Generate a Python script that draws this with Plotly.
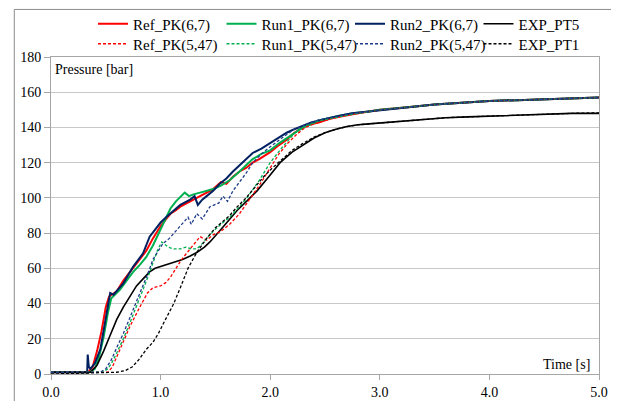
import plotly.graph_objects as go

# ---------------- data ----------------
ref67_t = [0, 0.34, 0.38, 0.42, 0.46, 0.50, 0.53, 0.57, 0.60, 0.66, 0.72, 0.80, 0.87, 0.93, 1.0, 1.05, 1.09, 1.14, 1.18,
           1.24, 1.3, 1.36, 1.42, 1.48, 1.55, 1.6, 1.66, 1.72, 1.78, 1.84, 1.9, 2.0, 2.08, 2.15, 2.22, 2.3, 2.38, 2.45,
           2.55, 2.62, 2.75, 2.9, 3.0, 3.25, 3.5, 3.75, 4.0, 4.25, 4.5, 4.75, 5.0]
ref67_p = [1, 1, 4, 13, 24, 38, 44, 46, 47, 53, 58, 64, 70, 77, 84, 88, 91, 93, 95,
           97, 99, 101, 103, 105, 109, 108, 112, 115, 117, 120, 122, 126, 130, 133, 137, 140, 142, 143,
           145, 146, 147.5, 149, 150, 151.5, 153, 154, 155, 155.5, 156, 156.5, 157]

run1_67_t = [0, 0.35, 0.40, 0.44, 0.48, 0.52, 0.55, 0.60, 0.63, 0.69, 0.75, 0.81, 0.87, 0.93, 1.0, 1.05, 1.09, 1.14,
             1.18, 1.22, 1.26, 1.30, 1.36, 1.42, 1.48, 1.55, 1.63, 1.72, 1.84, 1.92, 2.0, 2.08, 2.15, 2.22, 2.3, 2.38,
             2.45, 2.55, 2.62, 2.75, 2.9, 3.0, 3.25, 3.5, 3.75, 4.0, 4.25, 4.5, 4.75, 5.0]
run1_67_p = [1, 1, 3, 10, 21, 35, 43, 46, 48, 53, 58, 62, 66.5, 73, 82, 89, 94, 98,
             100.5, 103, 101, 102, 103, 104, 105, 107, 110, 115, 122, 125, 127, 131, 134, 137, 140, 142,
             144, 145.5, 146.5, 148, 149, 150, 151.5, 153, 154, 155, 155.5, 156, 156.5, 157]

run2_67_t = [0, 0.33, 0.335, 0.345, 0.36, 0.40, 0.45, 0.49, 0.52, 0.54, 0.57, 0.60, 0.66, 0.75, 0.84, 0.90, 0.95, 1.0,
             1.05, 1.09, 1.18, 1.27, 1.31, 1.34, 1.38, 1.42, 1.48, 1.54, 1.6, 1.66, 1.72, 1.78, 1.84, 1.92, 2.0, 2.08,
             2.15, 2.22, 2.3, 2.38, 2.45, 2.55, 2.62, 2.75, 2.9, 3.0, 3.25, 3.5, 3.75, 4.0, 4.25, 4.5, 4.75, 5.0]
run2_67_p = [1, 1, 11, 4, 3, 6, 14, 29, 40, 46, 45, 47, 51.5, 61, 68.5, 78, 82, 86,
             89, 91, 96, 99, 101, 96, 99, 101, 104, 108, 111, 115, 118.7, 122, 125.5, 128, 131, 134,
             137, 139, 141, 143, 144, 145.5, 146.5, 148, 149, 150, 151.5, 153, 154, 155, 155.5, 156, 156.5, 157]

ref547_t = [0, 0.52, 0.56, 0.63, 0.72, 0.81, 0.88, 0.93, 1.0, 1.05, 1.09, 1.14, 1.18, 1.23, 1.27, 1.32, 1.36, 1.42,
            1.48, 1.55, 1.63, 1.72, 1.8, 1.9, 2.0, 2.08, 2.16, 2.24, 2.32, 2.4, 2.5, 2.62, 2.75, 2.9, 3.0, 3.25, 3.5,
            3.75, 4.0, 4.25, 4.5, 4.75, 5.0]
ref547_p = [1, 1, 4, 14, 27, 38, 46, 49, 50, 52, 55, 60, 64, 68, 71, 75, 78, 76,
            79, 81, 85, 91, 98, 107, 117, 125, 131, 136, 140, 142, 144, 146, 147.5, 149, 150, 151.5, 153,
            154, 155, 155.5, 156, 156.5, 157]

run1_547_t = [0, 0.47, 0.52, 0.56, 0.60, 0.66, 0.72, 0.78, 0.84, 0.89, 0.93, 0.97, 1.01, 1.07, 1.12, 1.18, 1.23, 1.28,
              1.33, 1.38, 1.42, 1.48, 1.55, 1.63, 1.72, 1.8, 1.9, 2.0, 2.1, 2.17, 2.24, 2.32, 2.4, 2.5, 2.62, 2.75, 2.9,
              3.0, 3.25, 3.5, 3.75, 4.0, 4.25, 4.5, 4.75, 5.0]
run1_547_p = [1, 1, 3, 7, 12, 20, 29, 38, 48, 56, 63, 70, 75, 72, 71, 71, 72, 71,
              71, 74, 77, 81, 85, 89, 95, 101, 110, 120, 128, 133, 138, 141, 143, 144.5, 146, 147.5, 149,
              150, 151.5, 153, 154, 155, 155.5, 156, 156.5, 157]

run2_547_t = [0, 0.45, 0.5, 0.55, 0.6, 0.66, 0.72, 0.78, 0.84, 0.89, 0.93, 0.97, 1.02, 1.08, 1.15, 1.2, 1.25, 1.28,
              1.33, 1.38, 1.45, 1.53, 1.57, 1.61, 1.66, 1.72, 1.78, 1.84, 1.92, 2.0, 2.08, 2.15, 2.22, 2.3, 2.38, 2.45,
              2.55, 2.62, 2.75, 2.9, 3.0, 3.25, 3.5, 3.75, 4.0, 4.25, 4.5, 4.75, 5.0]
run2_547_p = [1, 1, 3, 8, 15, 23, 32, 41, 50, 58, 65, 69, 74, 77, 82, 85, 89, 85,
              91, 88, 95, 97, 101, 98, 104, 109, 114, 120, 125, 129, 133, 136, 139, 141, 143, 144.5,
              145.5, 146.5, 148, 149, 150, 151.5, 153, 154, 155, 155.5, 156, 156.5, 157]

exp_pt5_t = [0, 0.36, 0.42, 0.48, 0.54, 0.60, 0.66, 0.72, 0.78, 0.84, 0.90, 0.95, 1.0, 1.05, 1.1, 1.15, 1.2, 1.27,
             1.33, 1.4, 1.45, 1.55, 1.63, 1.7, 1.8, 1.88, 2.0, 2.09, 2.2, 2.3, 2.4, 2.5, 2.6, 2.7, 2.8, 2.9, 3.0, 3.2,
             3.4, 3.6, 3.8, 4.0, 4.25, 4.5, 4.75, 5.0]
exp_pt5_p = [1, 1, 5, 13, 22, 31, 38, 44, 50, 54, 58, 60, 61, 62, 63, 64, 65, 67,
             69, 72, 75, 82, 88, 93, 99, 104, 113, 120, 126, 130, 134, 137, 139, 140.5, 141.5, 142, 142.5, 143.5,
             144.5, 145.5, 146, 146.5, 147, 147.5, 148, 148]

exp_pt1_t = [0, 0.5, 0.6, 0.68, 0.74, 0.8, 0.87, 0.93, 0.98, 1.02, 1.07, 1.12, 1.18, 1.25, 1.33, 1.42, 1.5, 1.63, 1.7,
             1.78, 1.86, 1.94, 2.02, 2.09, 2.2, 2.3, 2.4, 2.5, 2.6, 2.7, 2.8, 2.9, 3.0, 3.2, 3.4, 3.6, 3.8, 4.0, 4.25,
             4.5, 4.75, 5.0]
exp_pt1_p = [0, 0.5, 1, 2, 4, 8, 14, 18, 23, 28, 34, 40, 49, 60, 69, 77, 83, 90, 95,
             100, 106, 112, 117, 121, 127, 131, 134.5, 137, 139, 140.5, 141.5, 142, 142.5, 143.5, 144.5, 145.5, 146,
             146.5, 147, 147.5, 148, 148.3]

x_ticks = [0, 1, 2, 3, 4, 5]
x_tick_labels = ["0.0", "1.0", "2.0", "3.0", "4.0", "5.0"]
y_ticks = [0, 20, 40, 60, 80, 100, 120, 140, 160, 180]

series = [
    ("Ref_PK(6,7)", ref67_t, ref67_p, "#ff0000", "solid", 2.0),
    ("Run1_PK(6,7)", run1_67_t, run1_67_p, "#00b050", "solid", 2.0),
    ("Run2_PK(6,7)", run2_67_t, run2_67_p, "#002060", "solid", 2.0),
    ("EXP_PT5", exp_pt5_t, exp_pt5_p, "#000000", "solid", 1.6),
    ("Ref_PK(5,47)", ref547_t, ref547_p, "#ff0000", "3px,2px", 1.3),
    ("Run1_PK(5,47)", run1_547_t, run1_547_p, "#00b050", "3px,2px", 1.3),
    ("Run2_PK(5,47)", run2_547_t, run2_547_p, "#1f3c88", "3px,2px", 1.3),
    ("EXP_PT1", exp_pt1_t, exp_pt1_p, "#000000", "3px,2px", 1.3),
]

FONT = "Liberation Serif"
W, H = 611, 393  # the viewer page adds an 8px body offset

fig = go.Figure()
legend_layouts = {}
for i, (name, t, p, color, dash, w) in enumerate(series):
    key = "legend" if i == 0 else f"legend{i + 1}"
    col, row = i % 4, i // 4
    fig.add_trace(go.Scatter(x=t, y=p, mode="lines", name=name, legend=key,
                             line=dict(color=color, dash=dash, width=w)))
    legend_layouts[key] = dict(
        xref="container", yref="container",
        x=(85 + col * 128.5) / W, xanchor="left",
        y=1 - (16 + row * 20) / H, yanchor="middle",
        font=dict(family=FONT, size=15, color="#000000"),
        bgcolor="rgba(0,0,0,0)", borderwidth=0, itemwidth=30)

fig.update_layout(
    width=W, height=H,
    margin=dict(l=43, r=20, t=49, b=27, autoexpand=False),
    paper_bgcolor="white", plot_bgcolor="white",
    font=dict(family=FONT, size=14, color="#000000"),
    showlegend=True,
    xaxis=dict(range=[0, 5], tickvals=x_ticks, ticktext=x_tick_labels,
               showgrid=False, zeroline=False, showline=True, mirror=True,
               linecolor="#a6a6a6", linewidth=1, ticks="outside", ticklen=5,
               tickcolor="#a6a6a6", tickfont=dict(family=FONT, size=14)),
    yaxis=dict(range=[0, 180], tickvals=y_ticks, showgrid=True, gridcolor="#c8c8c8",
               gridwidth=1, zeroline=False, showline=True, mirror=True,
               linecolor="#a6a6a6", linewidth=1, ticks="outside", ticklen=6,
               tickcolor="#a6a6a6", tickfont=dict(family=FONT, size=14)),
    annotations=[
        dict(text="Pressure [bar]", xref="paper", yref="paper", x=0.004, y=0.96,
             xanchor="left", yanchor="middle", showarrow=False,
             font=dict(family=FONT, size=14)),
        dict(text="Time [s]", xref="paper", yref="paper", x=0.987, y=0.03,
             xanchor="right", yanchor="middle", showarrow=False,
             font=dict(family=FONT, size=14)),
    ],
    shapes=[
        # outer chart frame (left and top edges visible in the reference)
        dict(type="line", xref="paper", yref="paper", x0=-0.067, x1=-0.067, y0=-0.2, y1=1.15,
             line=dict(color="#8c8c8c", width=1), layer="above"),
        dict(type="line", xref="paper", yref="paper", x0=-0.067, x1=1.1, y0=1.15, y1=1.15,
             line=dict(color="#8c8c8c", width=1), layer="above"),
    ],
    **legend_layouts,
)

fig.write_html("out.html")
